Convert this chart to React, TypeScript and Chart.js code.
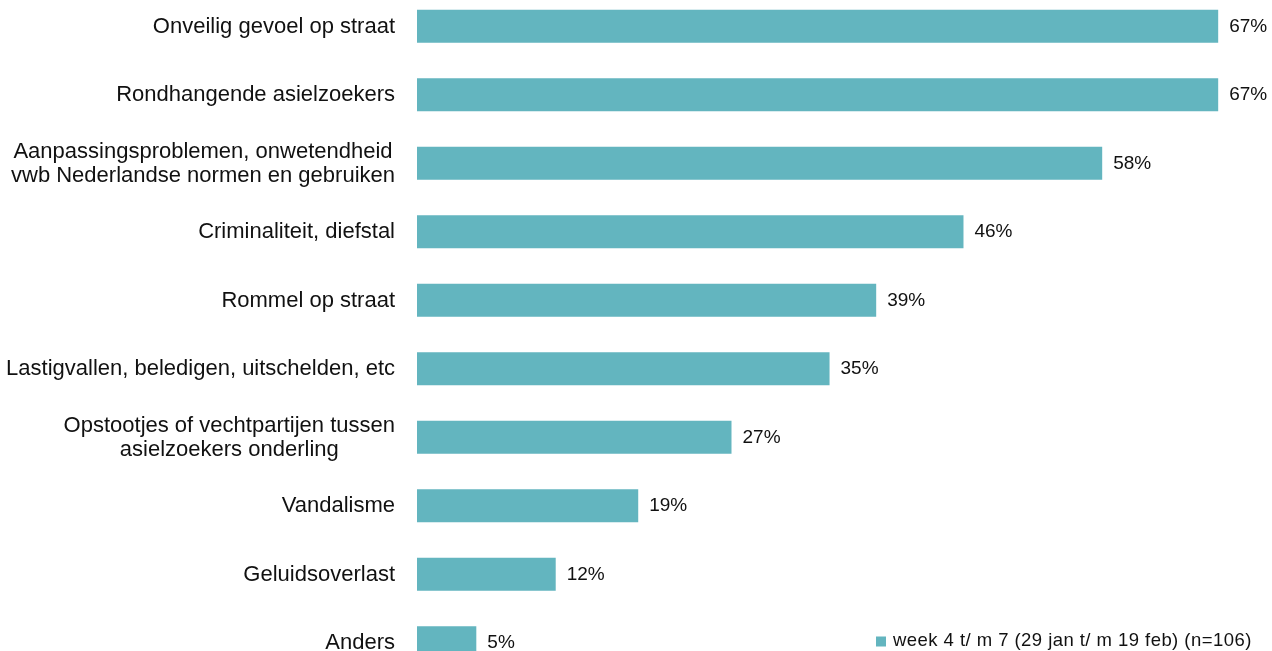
import React, { useEffect, useRef } from "react";
import { Chart, registerables } from "chart.js";

Chart.register(...registerables);

const categories: (string | string[])[] = [
  "Onveilig gevoel op straat",
  "Rondhangende asielzoekers",
  ["Aanpassingsproblemen, onwetendheid", "vwb Nederlandse normen en gebruiken"],
  "Criminaliteit, diefstal",
  "Rommel op straat",
  "Lastigvallen, beledigen, uitschelden, etc",
  ["Opstootjes of vechtpartijen tussen", "asielzoekers onderling"],
  "Vandalisme",
  "Geluidsoverlast",
  "Anders",
];

const values = [67.0, 67.0, 57.3, 45.7, 38.4, 34.5, 26.3, 18.5, 11.6, 4.96];

const valueLabels = ["67%", "67%", "58%", "46%", "39%", "35%", "27%", "19%", "12%", "5%"];

const seriesLabel = "week 4 t/ m 7 (29 jan t/ m 19 feb) (n=106)";

const BAR_COLOR = "#63B5BF";
const TEXT_COLOR = "#111111";
const FONT_FAMILY = "'Liberation Sans', Arial, sans-serif";

const labelsPlugin = {
  id: "customLabels",
  afterDraw(chart: any) {
    const ctx: any = chart.ctx;
    const yScale = chart.scales.y;
    ctx.save();
    // category labels (right edge near axis, multi-line centered)
    ctx.fillStyle = TEXT_COLOR;
    ctx.font = `22px ${FONT_FAMILY}`;
    ctx.textBaseline = "middle";
    ctx.textAlign = "center";
    const lh = 24;
    const rightEdge = chart.chartArea.left - 22;
    categories.forEach((lab, i) => {
      const lines = Array.isArray(lab) ? lab : [lab];
      const y = yScale.getPixelForTick(i) + 0.5;
      const maxW = Math.max(...lines.map((l) => ctx.measureText(l).width));
      const cx = rightEdge - maxW / 2;
      lines.forEach((l, j) => {
        ctx.fillText(l, cx, y + (j - (lines.length - 1) / 2) * lh);
      });
    });
    // value labels
    ctx.font = `19px ${FONT_FAMILY}`;
    ctx.textAlign = "left";
    const meta = chart.getDatasetMeta(0);
    meta.data.forEach((bar: any, i: number) => {
      ctx.fillText(valueLabels[i], bar.x + 11, bar.y + 0.5);
    });
    // legend
    const ds = chart.data.datasets[0];
    ctx.fillStyle = BAR_COLOR;
    ctx.fillRect(876, 644.5, 10, 10);
    ctx.fillStyle = TEXT_COLOR;
    ctx.font = `18.5px ${FONT_FAMILY}`;
    if ("letterSpacing" in ctx) ctx.letterSpacing = "0.45px";
    ctx.fillText(ds.label, 893, 648.5);
    ctx.restore();
  },
};

export default function App() {
  const canvasRef = useRef<HTMLCanvasElement | null>(null);

  useEffect(() => {
    if (!canvasRef.current) return;
    const chart = new Chart(canvasRef.current, {
      type: "bar",
      data: {
        labels: categories as any,
        datasets: [
          {
            label: seriesLabel,
            data: values,
            backgroundColor: BAR_COLOR,
            borderWidth: 0,
            categoryPercentage: 1,
            barPercentage: 0.482,
          },
        ],
      },
      options: {
        indexAxis: "y",
        animation: false,
        responsive: false,
        maintainAspectRatio: false,
        layout: { padding: 0 },
        plugins: {
          legend: { display: false },
          tooltip: { enabled: false },
        },
        scales: {
          x: {
            display: false,
            min: 0,
            max: 71.5,
          },
          y: {
            display: true,
            grid: { display: false, drawTicks: false },
            border: { display: false },
            ticks: { display: false },
            afterFit(scale: any) {
              scale.width = 417;
              scale.paddingTop = 0;
              scale.paddingBottom = 0;
            },
          },
        },
      },
      plugins: [labelsPlugin],
    });
    return () => chart.destroy();
  }, []);

  return (
    <div style={{ position: "absolute", left: 0, top: -8, width: 1272, height: 685 }}>
      <canvas ref={canvasRef} width={1272} height={685} style={{ display: "block" }} />
    </div>
  );
}
